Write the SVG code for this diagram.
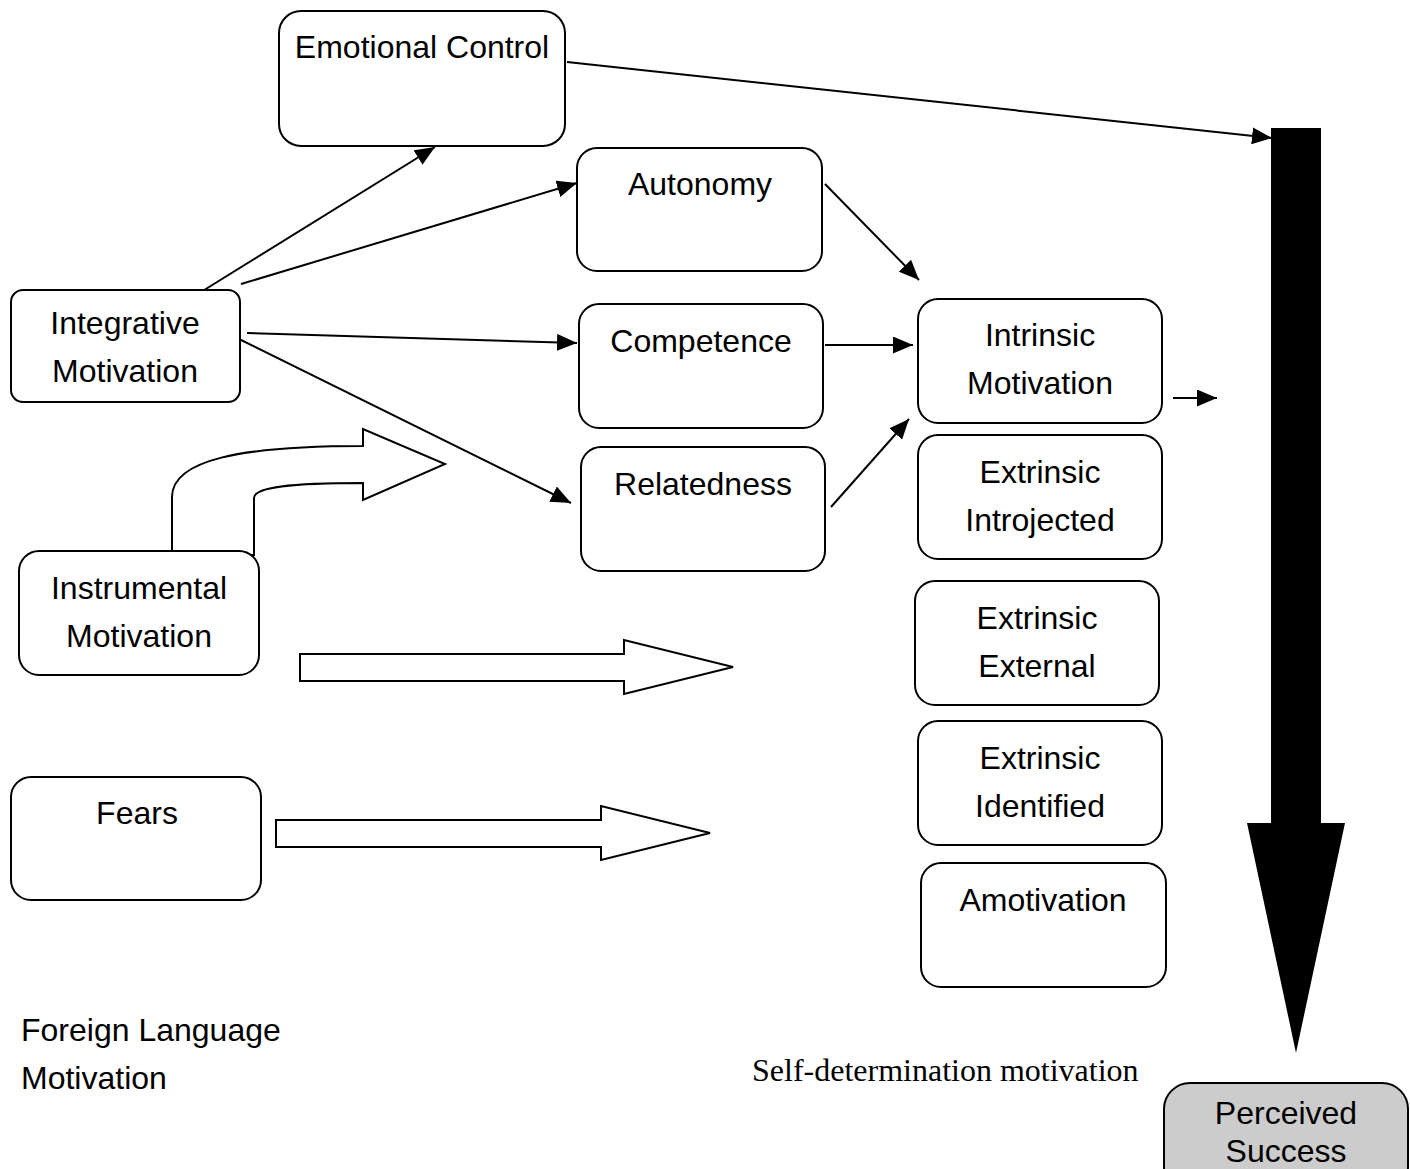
<svg xmlns="http://www.w3.org/2000/svg" width="1410" height="1169" viewBox="0 0 1410 1169">
<defs>
<marker id="ah2" viewBox="0 0 10 10" refX="10" refY="5" markerWidth="20" markerHeight="17" markerUnits="userSpaceOnUse" orient="auto" preserveAspectRatio="none">
<path d="M0,0 L10,5 L0,10 Z" fill="#000"/>
</marker>
</defs>
<style>
.box{fill:#fff;stroke:#000;stroke-width:2}
.t{font-family:"Liberation Sans",Arial,Helvetica,sans-serif;font-size:32px;fill:#000;text-anchor:middle}
.c{stroke:#000;stroke-width:2;fill:none;marker-end:url(#ah2)}
.blk{fill:#fff;stroke:#000;stroke-width:2;stroke-linejoin:miter}
</style>
<rect width="1410" height="1169" fill="#fff"/>

<g id="connectors">
<line class="c" x1="201" y1="292" x2="435" y2="147"/>
<line class="c" x1="241" y1="284" x2="577" y2="183"/>
<line class="c" x1="247" y1="333" x2="577" y2="343"/>
<line class="c" x1="235" y1="337" x2="571" y2="503"/>
<line class="c" x1="825" y1="184" x2="919" y2="280"/>
<line class="c" x1="825" y1="345" x2="913" y2="345"/>
<line class="c" x1="831" y1="507" x2="909" y2="419"/>
<line class="c" x1="1173" y1="398" x2="1217" y2="398"/>
<line class="c" x1="567" y1="62" x2="1272" y2="138"/>
</g>

<g id="curved-arrow">
<path class="blk" d="M172,555 L172,497 C172,460 240,446 363,446 L363,429 L445,464 L363,500 L363,483 C290,483 254,487 254,498 L254,555 Z"/>
</g>
<g id="block-arrow-1">
<path class="blk" d="M300,654 L624,654 L624,640 L733,667 L624,694 L624,681 L300,681 Z"/>
</g>
<g id="block-arrow-2">
<path class="blk" d="M276,820 L601,820 L601,806 L710,833 L601,860 L601,847 L276,847 Z"/>
</g>
<g id="big-arrow">
<path d="M1271,128 L1321,128 L1321,823 L1345,823 L1296,1053 L1247,823 L1271,823 Z" fill="#000"/>
</g>

<g id="emotional-control">
<rect class="box" x="279" y="11" width="286" height="135" rx="22"/>
<text class="t" x="422" y="58">Emotional Control</text>
</g>
<g id="autonomy">
<rect class="box" x="577" y="148" width="245" height="123" rx="20"/>
<text class="t" x="700" y="195">Autonomy</text>
</g>
<g id="competence">
<rect class="box" x="579" y="304" width="244" height="124" rx="20"/>
<text class="t" x="701" y="352">Competence</text>
</g>
<g id="relatedness">
<rect class="box" x="581" y="447" width="244" height="124" rx="20"/>
<text class="t" x="703" y="495">Relatedness</text>
</g>
<g id="integrative-motivation">
<rect class="box" x="11" y="290" width="229" height="112" rx="12"/>
<text class="t" x="125" y="334">Integrative</text>
<text class="t" x="125" y="382">Motivation</text>
</g>
<g id="instrumental-motivation">
<rect class="box" x="19" y="551" width="240" height="124" rx="20"/>
<text class="t" x="139" y="599">Instrumental</text>
<text class="t" x="139" y="647">Motivation</text>
</g>
<g id="fears">
<rect class="box" x="11" y="777" width="250" height="123" rx="20"/>
<text class="t" x="137" y="824">Fears</text>
</g>
<g id="intrinsic-motivation">
<rect class="box" x="918" y="299" width="244" height="124" rx="20"/>
<text class="t" x="1040" y="346">Intrinsic</text>
<text class="t" x="1040" y="394">Motivation</text>
</g>
<g id="extrinsic-introjected">
<rect class="box" x="918" y="435" width="244" height="124" rx="20"/>
<text class="t" x="1040" y="483">Extrinsic</text>
<text class="t" x="1040" y="531">Introjected</text>
</g>
<g id="extrinsic-external">
<rect class="box" x="915" y="581" width="244" height="124" rx="20"/>
<text class="t" x="1037" y="629">Extrinsic</text>
<text class="t" x="1037" y="677">External</text>
</g>
<g id="extrinsic-identified">
<rect class="box" x="918" y="721" width="244" height="124" rx="20"/>
<text class="t" x="1040" y="769">Extrinsic</text>
<text class="t" x="1040" y="817">Identified</text>
</g>
<g id="amotivation">
<rect class="box" x="921" y="863" width="245" height="124" rx="20"/>
<text class="t" x="1043" y="911">Amotivation</text>
</g>
<g id="perceived-success">
<rect x="1164" y="1083" width="244" height="110" rx="26" fill="#cccccc" stroke="#000" stroke-width="2"/>
<text class="t" x="1286" y="1124">Perceived</text>
<text class="t" x="1286" y="1162">Success</text>
</g>

<g id="labels">
<text x="21" y="1041" font-family="'Liberation Sans',Arial,sans-serif" font-size="32">Foreign Language</text>
<text x="21" y="1089" font-family="'Liberation Sans',Arial,sans-serif" font-size="32">Motivation</text>
<text x="752" y="1081" font-family="'Liberation Serif','Times New Roman',serif" font-size="32">Self-determination motivation</text>
</g>
</svg>
